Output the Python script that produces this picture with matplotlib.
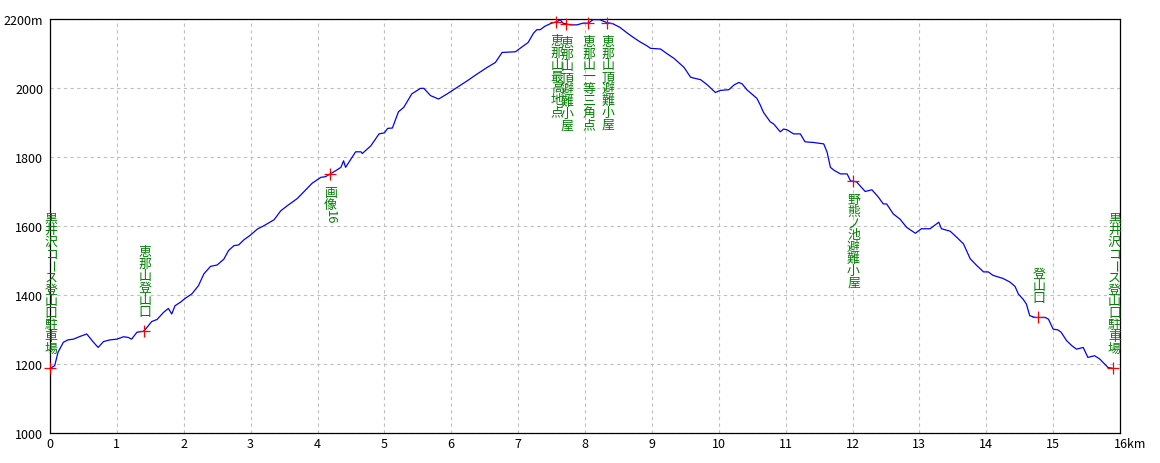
import matplotlib
matplotlib.use("Agg")
import matplotlib.pyplot as plt

plt.rcParams['font.family'] = ['Noto Sans CJK JP', 'DejaVu Sans']

# ---- data ----
dist_km = [0.00, 0.07, 0.12, 0.20, 0.27, 0.35, 0.45, 0.55, 0.65, 0.72, 0.80, 0.90,
           1.00, 1.10, 1.17, 1.22, 1.30, 1.40, 1.45, 1.52, 1.60, 1.70, 1.77, 1.82,
           1.87, 1.95, 2.02, 2.12, 2.22, 2.30, 2.40, 2.50, 2.60, 2.67, 2.75, 2.82,
           2.90, 3.00, 3.10, 3.20, 3.35, 3.45, 3.55, 3.70, 3.80, 3.92, 4.05, 4.12,
           4.20, 4.27, 4.35, 4.39, 4.42, 4.50, 4.57, 4.65, 4.67, 4.80, 4.92, 5.00,
           5.05, 5.12, 5.21, 5.29, 5.41, 5.54, 5.59, 5.69, 5.81, 5.94, 6.09, 6.24,
           6.39, 6.54, 6.66, 6.76, 6.96, 7.05, 7.15, 7.23, 7.28, 7.33, 7.40, 7.50,
           7.58, 7.63, 7.67, 7.78, 7.88, 7.97, 8.05, 8.12, 8.22, 8.32, 8.42, 8.52,
           8.62, 8.72, 8.82, 8.92, 8.98, 9.13, 9.23, 9.33, 9.48, 9.58, 9.73, 9.83,
           9.95, 10.02, 10.15, 10.23, 10.30, 10.35, 10.42, 10.57, 10.62, 10.67, 10.77, 10.82,
           10.92, 10.97, 11.02, 11.12, 11.22, 11.29, 11.42, 11.57, 11.62, 11.67, 11.72, 11.82,
           11.92, 11.97, 12.06, 12.19, 12.29, 12.39, 12.46, 12.51, 12.61, 12.71, 12.81, 12.94,
           13.03, 13.16, 13.29, 13.33, 13.46, 13.56, 13.66, 13.76, 13.86, 13.96, 14.03, 14.10,
           14.25, 14.35, 14.43, 14.48, 14.55, 14.60, 14.65, 14.73, 14.88, 14.93, 15.00, 15.07,
           15.12, 15.20, 15.28, 15.35, 15.45, 15.52, 15.62, 15.70, 15.82, 15.90]
elev_m = [1187, 1195, 1234, 1263, 1270, 1272, 1280, 1287, 1263, 1248, 1265, 1270,
          1272, 1279, 1277, 1272, 1292, 1295, 1306, 1323, 1329, 1350, 1361, 1345,
          1369, 1379, 1390, 1403, 1427, 1461, 1483, 1487, 1504, 1529, 1543, 1545,
          1560, 1574, 1591, 1601, 1618, 1644, 1659, 1680, 1700, 1724, 1741, 1743,
          1752, 1760, 1770, 1789, 1770, 1794, 1815, 1815, 1810, 1833, 1867, 1870,
          1883, 1884, 1931, 1944, 1983, 1999, 1999, 1978, 1968, 1983, 2002, 2021,
          2041, 2060, 2074, 2103, 2105, 2118, 2132, 2159, 2169, 2169, 2179, 2188,
          2192, 2198, 2188, 2183, 2183, 2188, 2188, 2198, 2198, 2190, 2186, 2176,
          2161, 2147, 2134, 2123, 2115, 2113, 2099, 2086, 2060, 2031, 2024, 2009,
          1987, 1993, 1995, 2009, 2016, 2012, 1995, 1970, 1951, 1929, 1902, 1896,
          1873, 1881, 1879, 1867, 1867, 1844, 1842, 1838, 1814, 1770, 1762, 1751,
          1751, 1731, 1728, 1700, 1705, 1683, 1664, 1664, 1635, 1620, 1596, 1579,
          1592, 1592, 1611, 1592, 1585, 1567, 1548, 1505, 1485, 1467, 1467, 1457,
          1448, 1438, 1425, 1403, 1388, 1374, 1340, 1335, 1335, 1330, 1301, 1299,
          1292, 1268, 1253, 1243, 1248, 1219, 1224, 1214, 1190, 1187]

wp_km = [0.0, 1.41, 4.18, 7.57, 7.71, 8.04, 8.33, 12.0, 14.77, 15.9]
wp_elev = [1187, 1295, 1750, 2190, 2185, 2188, 2188, 1730, 1335, 1187]
wp_names = ["黒井沢コース登山口駐車場", "恵那山登山口", "画像16", "恵那山最高地点",
            "恵那山頂避難小屋", "恵那山一等三角点", "恵那山頂避難小屋",
            "野熊ノ池避難小屋", "登山口", "黒井沢コース登山口駐車場"]
wp_above = [True, True, False, False, False, False, False, False, True, True]

x_ticks = list(range(0, 17))
x_tick_labels = [str(v) for v in range(0, 16)] + [""]
x_unit_label = "16km"
y_ticks = [1000, 1200, 1400, 1600, 1800, 2000, 2200]
y_tick_labels = ["1000", "1200", "1400", "1600", "1800", "2000", "2200m"]

# ---- layout / style ----
W, H, DPI = 1160, 464, 100
fig = plt.figure(figsize=(W / DPI, H / DPI), dpi=DPI)
ax = fig.add_axes([50 / W, 1 - 434 / H, 1070 / W, 414 / H])
ax.set_xlim(0, 16)
ax.set_ylim(1000, 2200)

ax.plot(dist_km, elev_m, color="#0000ff", lw=0.9, zorder=3, clip_on=True)
ax.plot(wp_km, wp_elev, ls="none", marker="+", color="#ff0000",
        markersize=8, markeredgewidth=0.9, zorder=4, clip_on=False)

ax.set_xticks(x_ticks)
ax.set_xticklabels(x_tick_labels)
ax.set_yticks(y_ticks)
ax.set_yticklabels(y_tick_labels)
ax.tick_params(axis="both", length=0, labelsize=9, colors="black")
ax.tick_params(axis="x", pad=3)
ax.tick_params(axis="y", pad=5)
ax.grid(True, color="#c0c0c0", linestyle=(0, (3, 3)), linewidth=0.8)
for s in ax.spines.values():
    s.set_linewidth(0.9)
    s.set_color("black")

ax.annotate(x_unit_label, xy=(16, 1000), xytext=(-6, -4.2), textcoords="offset pixels",
            ha="left", va="top", fontsize=9, color="black", annotation_clip=False)

# vertical labels, one glyph group per line
PITCH = 11.9  # px
GREEN = "#008000"


def tokens(s):
    out = []
    buf = ""
    for ch in s:
        if ch.isascii():
            buf += ch
        else:
            if buf:
                out.append(buf)
                buf = ""
            out.append(ch)
    if buf:
        out.append(buf)
    return out


for x, y, name, above in zip(wp_km, wp_elev, wp_names, wp_above):
    toks = tokens(name)
    n = len(toks)
    for i, t in enumerate(toks):
        rot = -90 if (t.isascii() or t == "ー") else 0
        if above:
            oy = 14 + (n - 1 - i) * PITCH + PITCH / 2
        else:
            oy = -(12 + i * PITCH + PITCH / 2)
        ax.annotate(t, xy=(x, y), xytext=(1, oy), textcoords="offset pixels",
                    ha="center", va="center", rotation=rot, fontsize=9.3,
                    color=GREEN, annotation_clip=False, zorder=5)

fig.savefig("out.png", dpi=DPI)
